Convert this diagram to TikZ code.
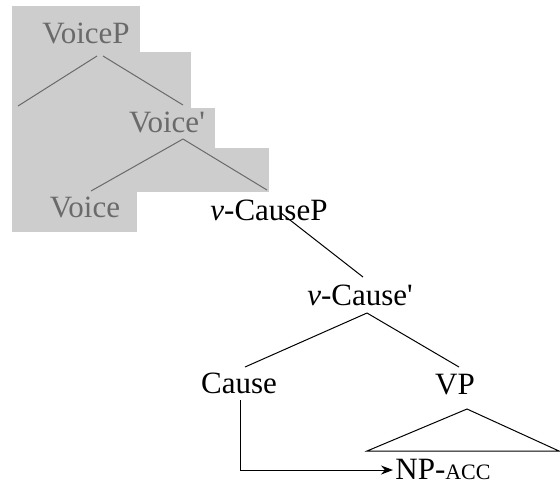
\documentclass[tikz,border=0pt]{standalone}
\usepackage{fontspec}
\setmainfont{Liberation Serif}
\usetikzlibrary{arrows.meta, positioning}
\definecolor{boxgray}{HTML}{CDCDCD}
\definecolor{inkgray}{HTML}{6A6A6A}

\begin{document}
\begin{tikzpicture}[x=0.5pt,y=-0.5pt, font=\fontsize{15.5}{18}\selectfont,
	lbl/.style={inner sep=0pt, anchor=base},
	faded/.style={text=inkgray}]
		\useasboundingbox (0,0) rectangle (560,484);
		% shaded part of the tree
		\fill[boxgray] (12,6) rectangle (140,52);
		\fill[boxgray] (12,52) rectangle (191,108);
		\fill[boxgray] (12,108) rectangle (215,148);
		\fill[boxgray] (12,148) rectangle (269,192);
		\fill[boxgray] (12,192) rectangle (137,232);

		\draw (86,43) node[lbl,faded] (vp){VoiceP}
		(167,132) node[lbl,faded] (vbar) {Voice\textquotesingle}
		(85,217) node[lbl,faded] (vhead) {Voice}
		(269,220) node[lbl] (cp) {\textit{v}-CauseP}
		(360,305) node[lbl] (cbar) {\textit{v}-Cause\textquotesingle}
		(239,393) node[lbl] (cause) {Cause}
		(455,394) node[lbl] (vpp) {VP}
		(395,479) node[inner sep=0pt, anchor=base west] (np) {NP-{\fontsize{11}{12}\selectfont ACC}};

		\coordinate (vpT1) at (97,56);
		\coordinate (vpT2) at (103,56);
		\coordinate (vpL) at (18,106);
		\coordinate (vpR) at (183,105);
		\coordinate (vbarT) at (183,139);
		\coordinate (vbarL) at (91,191);
		\coordinate (vbarR) at (267,190);
		\coordinate (cpT) at (281,213);
		\coordinate (cpB) at (363,277);
		\coordinate (cbarT) at (367,313);
		\coordinate (cbarL) at (245,367);
		\coordinate (cbarR) at (459,367);
		\coordinate (triT) at (467,409);
		\coordinate (triL) at (367,451);
		\coordinate (triR) at (559,451);
		\coordinate (arrS) at (240,400);
		\coordinate (arrC) at (240,470);

		\draw[inkgray, line width=0.5pt] (vpT1) -- (vpL);
		\draw[inkgray, line width=0.5pt] (vpT2) -- (vpR);
		\draw[inkgray, line width=0.5pt] (vbarT) -- (vbarL);
		\draw[inkgray, line width=0.5pt] (vbarT) -- (vbarR);
		\draw[line width=0.5pt] (cpT) -- (cpB);
		\draw[line width=0.5pt] (cbarT) -- (cbarL);
		\draw[line width=0.5pt] (cbarT) -- (cbarR);
		\draw[line width=0.5pt] (triT) -- (triL) -- (triR) -- cycle;
		\draw[-{Stealth[length=6pt,width=4.5pt]}, line width=0.5pt] (arrS) -- (arrC) -- ([xshift=-1pt]np.west |- arrC);
	\end{tikzpicture}
\end{document}
